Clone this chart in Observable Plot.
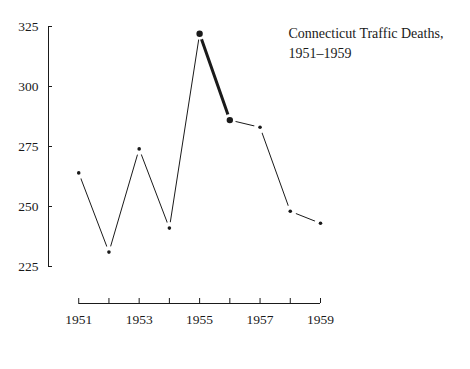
<!DOCTYPE html>
<html><head><meta charset="utf-8">
<script src="https://cdn.jsdelivr.net/npm/d3@7"></script>
<script src="https://cdn.jsdelivr.net/npm/@observablehq/plot@0.6"></script>
<style>body{margin:0;background:#fff}</style>
</head><body><div id="chart"></div>
<script>
const years = [1951, 1952, 1953, 1954, 1955, 1956, 1957, 1958, 1959];
const deaths = [264, 231, 274, 241, 322, 286, 283, 248, 243];
const highlightYears = [1955, 1956];
const yTicks = [225, 250, 275, 300, 325];
const xLabelYears = [1951, 1953, 1955, 1957, 1959];
const title = "Connecticut Traffic Deaths,\n1951–1959";

const data = years.map((year, i) => ({year, deaths: deaths[i]}));
const hi = data.filter(d => highlightYears.includes(d.year));
const lo = data.filter(d => !highlightYears.includes(d.year));
const ink = "#1a1a1a";
const font = "'Liberation Serif', serif";

const chart = Plot.plot({
  width: 470, height: 369,
  marginLeft: 48, marginRight: 150, marginTop: 26, marginBottom: 103,
  style: {fontFamily: font, fontSize: "13.5px", background: "white", color: ink},
  x: {domain: [1950, 1959], axis: null},
  y: {domain: [yTicks[0], yTicks[yTicks.length - 1]], axis: null},
  marks: [
    Plot.ruleX([1950], {y1: yTicks[0], y2: yTicks[yTicks.length - 1], stroke: ink}),
    Plot.axisY({ticks: yTicks, tickSize: 4, dx: 4, text: null, label: null, stroke: ink}),
    Plot.axisY({ticks: yTicks, tickSize: 0, tickPadding: 10, label: null, fill: ink}),
    Plot.ruleY([yTicks[0]], {x1: years[0], x2: years[years.length - 1], dy: 37, stroke: ink}),
    Plot.axisX({ticks: years, tickSize: 5, dy: 32, text: null, label: null, stroke: ink}),
    Plot.axisX({ticks: xLabelYears, tickSize: 0, tickPadding: 0, dy: 48, label: null, fill: ink, tickFormat: d => String(d)}),
    Plot.line(data, {x: "year", y: "deaths", stroke: ink, strokeWidth: 1}),
    Plot.line(hi, {x: "year", y: "deaths", stroke: ink, strokeWidth: 3}),
    Plot.dot(data, {x: "year", y: "deaths", r: 6, fill: "white"}),
    Plot.dot(lo, {x: "year", y: "deaths", r: 1.8, fill: ink}),
    Plot.dot(hi, {x: "year", y: "deaths", r: 3.2, fill: ink}),
    Plot.text([title], {frameAnchor: "top-right", textAnchor: "start", lineAnchor: "top", dx: -32, dy: -3, fontSize: 14, lineHeight: 1.45, fill: ink})
  ]
});
document.getElementById("chart").appendChild(chart);
</script>
</body></html>
